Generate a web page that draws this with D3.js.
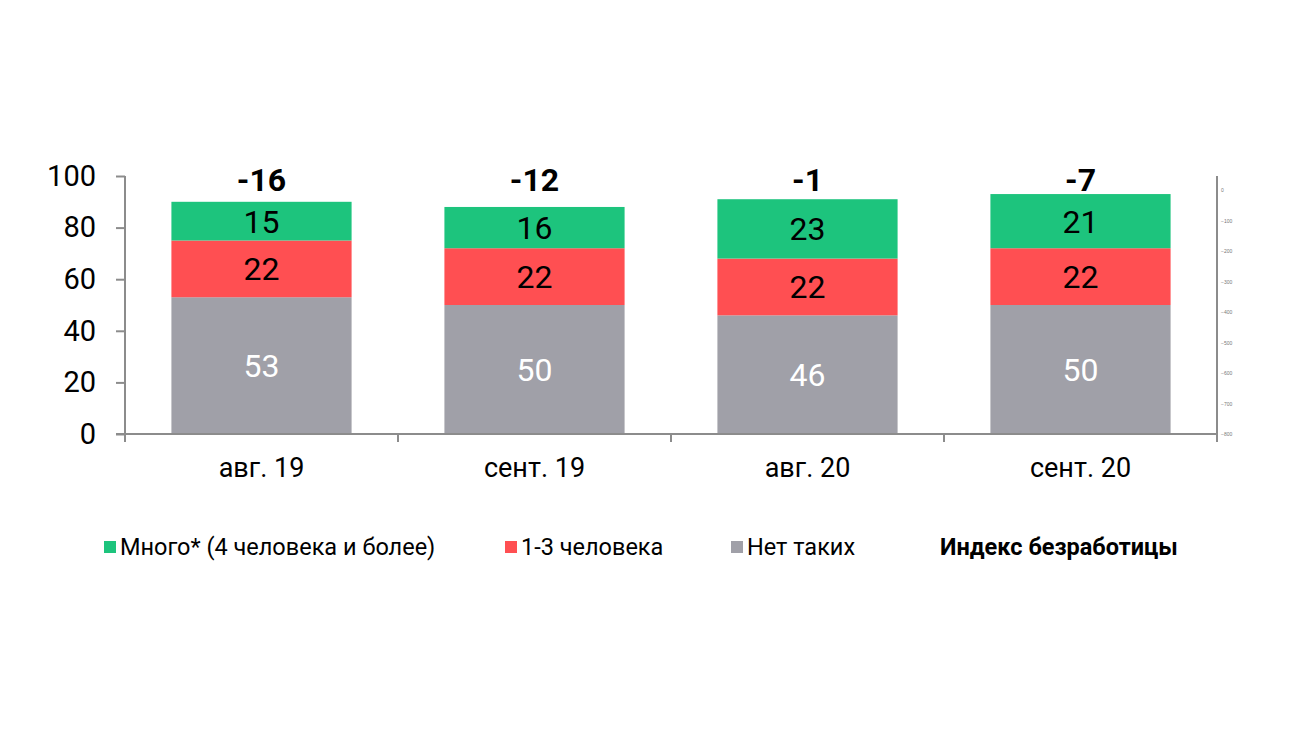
<!DOCTYPE html>
<html>
<head>
<meta charset="utf-8">
<script src="https://cdn.jsdelivr.net/npm/d3@7"></script>
<style>
  body { margin: 0; background: #fff; }
  svg { font-family: Roboto, "Noto Sans", sans-serif; }
</style>
</head>
<body>
<div id="chart"></div>
<script>
// data
var categories = ["авг. 19", "сент. 19", "авг. 20", "сент. 20"];
var noneValues = [53, 50, 46, 50];
var fewValues = [22, 22, 22, 22];
var manyValues = [15, 16, 23, 21];
var indexValues = [-16, -12, -1, -7];
var leftTicks = [0, 20, 40, 60, 80, 100];
var rightTicks = [0, -100, -200, -300, -400, -500, -600, -700, -800];

var seriesNames = ["Нет таких", "1-3 человека", "Много* (4 человека и более)"];
var seriesColors = ["#a0a0a8", "#ff4f52", "#1dc47d"];
var seriesText = ["#fff", "#000", "#000"];

var width = 1300, height = 731;
var plotLeft = 125, plotRight = 1217, plotTop = 176, plotBottom = 434;

var svg = d3.select("#chart")
  .append("svg")
  .attr("width", width)
  .attr("height", height);

var x = d3.scaleBand()
  .domain(categories)
  .range([plotLeft, plotRight])
  .paddingInner(0.34)
  .paddingOuter(0.17);

var y = d3.scaleLinear()
  .domain([0, 100])
  .range([plotBottom, plotTop]);

var yRight = d3.scaleLinear()
  .domain([-800, 0])
  .range([plotBottom, 190]);

// stack the three series
var rows = categories.map(function(c, i) {
  return { cat: c, none: noneValues[i], few: fewValues[i], many: manyValues[i] };
});
var layers = d3.stack().keys(["none", "few", "many"])(rows);

layers.forEach(function(layer, k) {
  svg.append("g").selectAll("rect")
    .data(layer)
    .enter().append("rect")
    .attr("x", function(d) { return x(d.data.cat); })
    .attr("y", function(d) { return y(d[1]); })
    .attr("width", x.bandwidth())
    .attr("height", function(d) { return y(d[0]) - y(d[1]); })
    .style("fill", seriesColors[k]);
});

layers.forEach(function(layer, k) {
  svg.append("g").selectAll("text")
    .data(layer)
    .enter().append("text")
    .attr("x", function(d) { return x(d.data.cat) + x.bandwidth() / 2; })
    .attr("y", function(d) { return (y(d[0]) + y(d[1])) / 2; })
    .attr("dy", "0.36em")
    .style("font-size", "32px")
    .style("text-anchor", "middle")
    .style("fill", seriesText[k])
    .text(function(d) { return d[1] - d[0]; });
});

// index labels above the bars
svg.selectAll("text.idx")
  .data(indexValues)
  .enter().append("text")
  .attr("class", "idx")
  .attr("x", function(d, i) { return x(categories[i]) + x.bandwidth() / 2; })
  .attr("y", 179)
  .attr("dy", "0.36em")
  .style("font-size", "32px")
  .style("font-weight", "bold")
  .style("text-anchor", "middle")
  .style("fill", "#000")
  .text(function(d) { return d; });

// left axis
var leftAxis = svg.append("g")
  .attr("transform", "translate(" + plotLeft + ",0)")
  .call(d3.axisLeft(y).tickValues(leftTicks).tickSize(9).tickPadding(20));
leftAxis.select(".domain").attr("d", "M0," + plotTop + "V" + (plotBottom + 7));
leftAxis.selectAll("line").style("stroke", "#8c8c8c").style("stroke-width", 2);
leftAxis.select(".domain").style("stroke", "#8c8c8c").style("stroke-width", 2);
leftAxis.selectAll("text").style("font-size", "29px").style("fill", "#000")
  .style("font-family", "Roboto, sans-serif");

// bottom axis with ticks between categories
var edges = categories.map(function(c) { return x(c) - x.step() * x.paddingInner() / 2; });
edges.push(plotRight);
svg.append("line")
  .attr("x1", plotLeft - 9).attr("x2", plotRight)
  .attr("y1", plotBottom).attr("y2", plotBottom)
  .style("stroke", "#8c8c8c").style("stroke-width", 2);
svg.selectAll("line.cat")
  .data(edges)
  .enter().append("line")
  .attr("class", "cat")
  .attr("x1", function(d) { return d; }).attr("x2", function(d) { return d; })
  .attr("y1", plotBottom).attr("y2", plotBottom + 8)
  .style("stroke", "#8c8c8c").style("stroke-width", 2);
svg.selectAll("text.cat")
  .data(categories)
  .enter().append("text")
  .attr("class", "cat")
  .attr("x", function(d) { return x(d) + x.bandwidth() / 2; })
  .attr("y", 467)
  .attr("dy", "0.36em")
  .style("font-size", "27px")
  .style("text-anchor", "middle")
  .style("fill", "#000")
  .text(function(d) { return d; });

// right axis, tiny labels
var rightAxis = svg.append("g")
  .attr("transform", "translate(" + plotRight + ",0)")
  .call(d3.axisRight(yRight).tickValues(rightTicks).tickSize(0).tickPadding(4));
rightAxis.select(".domain").attr("d", "M0," + plotTop + "V" + plotBottom)
  .style("stroke", "#8c8c8c").style("stroke-width", 2);
rightAxis.selectAll("text").style("font-size", "5px").style("fill", "#777");

// legend
var legendItems = [
  { name: seriesNames[2], color: seriesColors[2], x: 104 },
  { name: seriesNames[1], color: seriesColors[1], x: 505 },
  { name: seriesNames[0], color: seriesColors[0], x: 731 }
];
var legend = svg.append("g");
legendItems.forEach(function(d) {
  legend.append("rect")
    .attr("x", d.x).attr("y", 541)
    .attr("width", 12).attr("height", 12)
    .style("fill", d.color);
  legend.append("text")
    .attr("x", d.x + 16).attr("y", 547)
    .attr("dy", "0.36em")
    .style("font-size", "23.5px")
    .style("fill", "#000")
    .text(d.name);
});
legend.append("text")
  .attr("x", 940).attr("y", 547)
  .attr("dy", "0.36em")
  .style("font-size", "23.5px")
  .style("font-weight", "bold")
  .style("fill", "#000")
  .text("Индекс безработицы");
</script>
</body>
</html>
